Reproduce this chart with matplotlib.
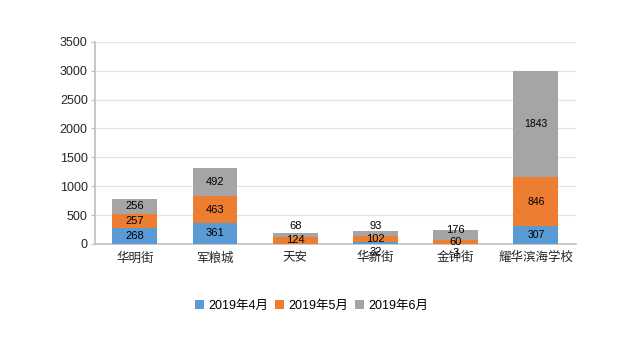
import matplotlib
matplotlib.use("Agg")
import matplotlib.pyplot as plt
import numpy as np

plt.rcParams['font.family'] = ['Liberation Sans', 'Noto Sans CJK SC', 'DejaVu Sans']

categories = ['华明街', '军粮城', '天安', '华新街', '金钟街', '耀华滨海学校']
series_names = ['2019年4月', '2019年5月', '2019年6月']
apr = [268, 361, 0, 32, 3, 307]
may = [257, 463, 124, 102, 60, 846]
jun = [256, 492, 68, 93, 176, 1843]
y_ticks = [0, 500, 1000, 1500, 2000, 2500, 3000, 3500]

colors = ['#5B9BD5', '#ED7D31', '#A5A5A5']
# label vertical offsets in points (to mimic overlap avoidance)
offsets = [
    [0, 0, 0, -6.5, -6.5, 0],
    [0, 0, 0, 0, 0, 0],
    [0, 0, 6.5, 5.5, 3.6, 0],
]

fig = plt.figure(figsize=(6.4, 3.55), dpi=100)
ax = fig.add_axes([0.148, 0.313, 0.752, 0.569])

x = np.arange(len(categories))
data = [apr, may, jun]
bottom = np.zeros(len(categories))
for i, (vals, name) in enumerate(zip(data, series_names)):
    vals = np.array(vals, dtype=float)
    ax.bar(x, vals, 0.56, bottom=bottom, color=colors[i], label=name, zorder=3)
    for j, v in enumerate(vals):
        if v > 0:
            fs = 7.5 if categories[j] == '耀华滨海学校' else 8
            ax.annotate(f'{int(v)}', (x[j], bottom[j] + v / 2), xytext=(0, offsets[i][j]),
                        textcoords='offset points', ha='center', va='center',
                        fontsize=fs, color='black', zorder=5)
    bottom += vals

ax.set_xlim(-0.5, len(categories) - 0.5)
ax.set_ylim(0, 3500)
ax.set_yticks(y_ticks)
ax.set_yticklabels([str(t) for t in y_ticks], fontsize=9, color='#262626')
ax.set_xticks(x)
ax.set_xticklabels(categories, fontsize=9, color='#262626')
ax.tick_params(axis='x', length=0, pad=6)
ax.tick_params(axis='y', length=3, color='#BFBFBF', pad=2)
ax.grid(axis='y', color='#E3E3E3', linewidth=0.9, zorder=0)
for s in ['top', 'right']:
    ax.spines[s].set_visible(False)
ax.spines['left'].set_color('#BFBFBF')
ax.spines['bottom'].set_color('#BFBFBF')
ax.spines['left'].set_linewidth(1.2)
ax.spines['bottom'].set_linewidth(1.2)

fig.legend(loc='center', bbox_to_anchor=(0.487, 0.138), ncol=3, frameon=False,
           fontsize=9, handlelength=0.7, handleheight=0.7, handletextpad=0.35,
           columnspacing=0.55)

fig.savefig('out.png', dpi=100)
